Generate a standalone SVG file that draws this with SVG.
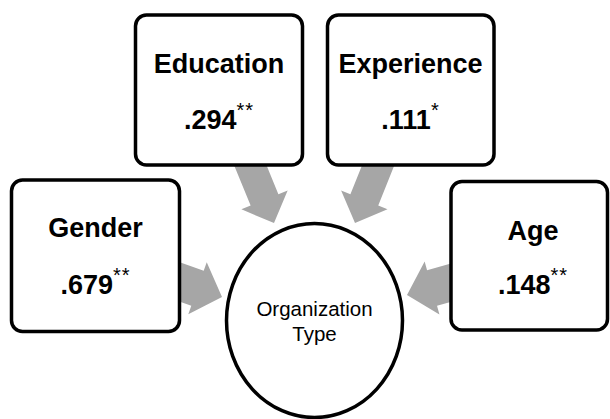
<svg xmlns="http://www.w3.org/2000/svg" width="610" height="419" viewBox="0 0 610 419">
  <style>
    .box { fill: #ffffff; stroke: #000000; stroke-width: 3.5; }
    .oval { fill: #ffffff; stroke: #000000; stroke-width: 3.5; }
    .arrow { fill: #a6a6a6; stroke: none; }
    .label { font-family: "Liberation Sans", Arial, sans-serif; font-weight: bold; font-size: 27px; fill: #000000; text-anchor: middle; }
    .sig { font-size: 20px; font-weight: normal; letter-spacing: 1px; }
    .center { font-family: "Liberation Sans", Arial, sans-serif; font-size: 20.5px; fill: #000000; text-anchor: middle; }
  </style>
  <defs>
    <!-- block arrow pointing along +x with its tip at the origin -->
    <path id="side-arrow" d="M0 0 L-26 -27.5 L-26 -18.5 L-70 -18.5 L-70 18.5 L-26 18.5 L-26 27.5 Z"/>
    <path id="top-arrow" d="M0 0 L-25 -25 L-25 -15 L-80 -15 L-80 15 L-25 15 L-25 25 Z"/>
  </defs>

  <!-- connectors: gray block arrows into the central oval -->
  <g id="connectors" class="arrow">
    <use href="#side-arrow" transform="translate(222 297) rotate(19.6)"/>
    <use href="#top-arrow" transform="translate(274 223) rotate(67.7)"/>
    <use href="#top-arrow" transform="translate(355 223) rotate(111.9)"/>
    <use href="#side-arrow" transform="translate(407 295) rotate(164.4)"/>
  </g>

  <g id="gender">
    <rect class="box" x="11.5" y="180" width="168" height="151.5" rx="11"/>
    <text class="label" x="95.5" y="237">Gender</text>
    <text class="label" x="95.5" y="294">.679<tspan class="sig" dy="-12">**</tspan></text>
  </g>

  <g id="education">
    <rect class="box" x="135.5" y="15" width="167" height="150" rx="11"/>
    <text class="label" x="219" y="72.5">Education</text>
    <text class="label" x="219" y="128.5">.294<tspan class="sig" dy="-12">**</tspan></text>
  </g>

  <g id="experience">
    <rect class="box" x="327.5" y="15" width="166.5" height="150" rx="11"/>
    <text class="label" x="410.5" y="72.5">Experience</text>
    <text class="label" x="410.5" y="128.5">.111<tspan class="sig" dy="-12">*</tspan></text>
  </g>

  <g id="age">
    <rect class="box" x="451" y="181.5" width="156.5" height="148.5" rx="11"/>
    <text class="label" x="533" y="240">Age</text>
    <text class="label" x="533" y="294">.148<tspan class="sig" dy="-12">**</tspan></text>
  </g>

  <g id="organization-type">
    <ellipse class="oval" cx="314.5" cy="320.5" rx="88" ry="97"/>
    <text class="center" x="314.5" y="316">Organization</text>
    <text class="center" x="314.5" y="341">Type</text>
  </g>
</svg>
